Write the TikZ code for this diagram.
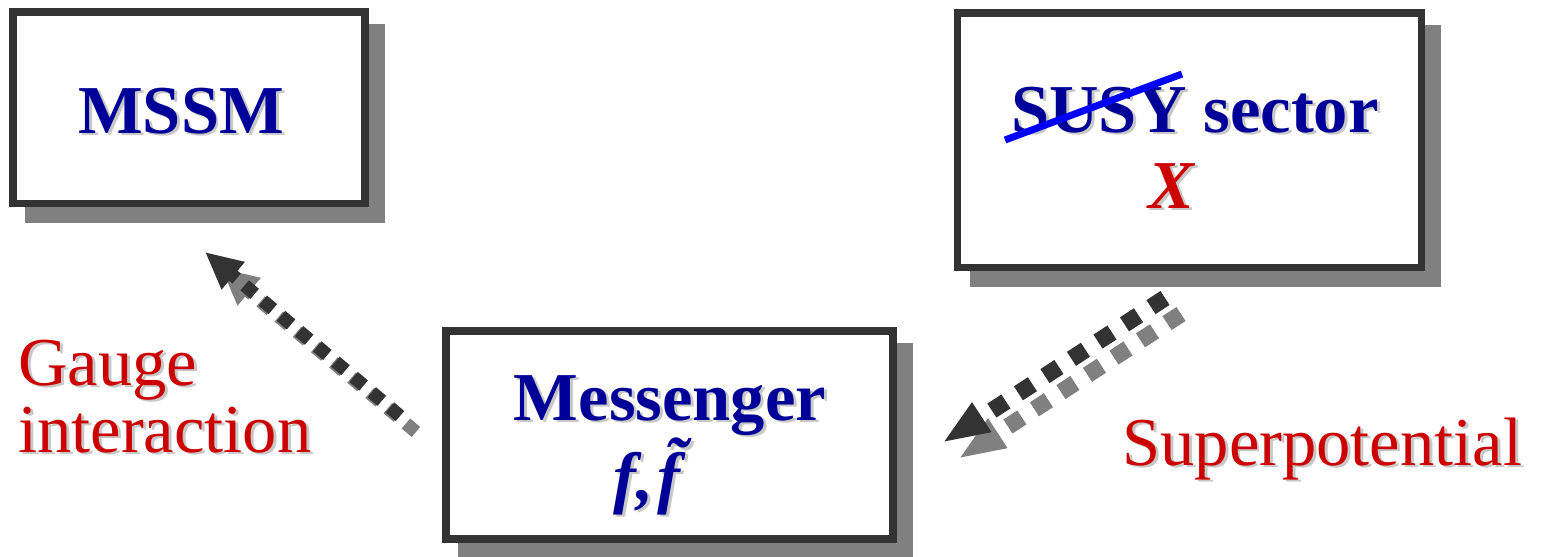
\documentclass[tikz,border=0pt]{standalone}
\usepackage{fontspec}
\setmainfont{Liberation Serif}
\usetikzlibrary{arrows.meta,shadows,calc}

\definecolor{boxdark}{HTML}{333333}
\definecolor{shadowgray}{HTML}{808080}
\definecolor{txtshadow}{HTML}{C8C8C8}
\definecolor{labelblue}{HTML}{000099}
\definecolor{labelred}{HTML}{CC0000}
\definecolor{strikeblue}{HTML}{0000FF}

% 影付き文字
\newcommand{\shtext}[2]{\rlap{\kern1.7pt\raisebox{-1.7pt}{\color{txtshadow}#2}}{\color{#1}#2}}

\tikzset{
  sbox/.style={draw=boxdark, line width=4.5pt, fill=white, inner sep=0pt,
    drop shadow={shadow xshift=0.32cm, shadow yshift=-0.32cm, opacity=1,
      fill=shadowgray, draw=shadowgray, line width=4.5pt}},
  bluetxt/.style={font=\fontsize{39}{40}\selectfont\bfseries, anchor=base, inner sep=0pt},
  redtxt/.style={font=\fontsize{39}{40}\selectfont, anchor=base west, inner sep=0pt},
  gaugearrow/.style={line width=7.5pt, dash pattern=on 7.5pt off 6pt,
    -{Triangle[length=21pt,width=19pt]}},
  superarrow/.style={line width=9.5pt, dash pattern=on 9.5pt off 8.5pt,
    -{Triangle[length=27pt,width=18pt]}},
}

\begin{document}
\begin{tikzpicture}
    \useasboundingbox (0,0) rectangle (30.88,-11.14);
    % 箱
    \node[sbox, minimum width=7.04cm, minimum height=3.83cm] (mssmbox) at (3.78,-2.155) {};
    \node[sbox, minimum width=9.28cm, minimum height=5.09cm] (susybox) at (23.79,-2.805) {};
    \node[sbox, minimum width=8.94cm, minimum height=4.16cm] (messbox) at (13.39,-8.70) {};

    % 箱の中の文字
    \node[bluetxt] (mssm) at (3.62,-2.66) {\shtext{labelblue}{MSSM}};
    \node[bluetxt] (susy) at (23.90,-2.64) {\shtext{labelblue}{SUSY sector}};
    \node[bluetxt] (xfield) at (23.42,-4.16) {\shtext{labelred}{\itshape X}};
    \node[bluetxt] (mess) at (13.40,-8.40) {\shtext{labelblue}{Messenger}};
    \node[bluetxt] (ff) at (12.94,-10.00) {\shtext{labelblue}{\itshape f,\kern2pt\~{f}}};
    \draw[strikeblue, line width=4pt] (20.10,-2.80) -- (23.64,-1.48);

    % 矢印
    \coordinate (gstart) at (8.00,-8.32);
    \coordinate (gend) at (4.10,-5.04);
    \coordinate (sstart) at (23.30,-5.96);
    \coordinate (send) at (18.84,-8.86);
    \draw[gaugearrow, shadowgray] ($(gstart)+(0.32,-0.32)$) -- ($(gend)+(0.32,-0.32)$);
    \draw[gaugearrow, boxdark] (gstart) -- (gend);
    \draw[superarrow, shadowgray] ($(sstart)+(0.32,-0.32)$) -- ($(send)+(0.32,-0.32)$);
    \draw[superarrow, boxdark] (sstart) -- (send);

    % ラベル
    \node[redtxt] (gauge) at (0.36,-7.70) {\shtext{labelred}{Gauge}};
    \node[redtxt] (interact) at (0.36,-9.04) {\shtext{labelred}{interaction}};
    \node[redtxt] (superpot) at (22.44,-9.30) {\shtext{labelred}{Superpotential}};
\end{tikzpicture}
\end{document}
